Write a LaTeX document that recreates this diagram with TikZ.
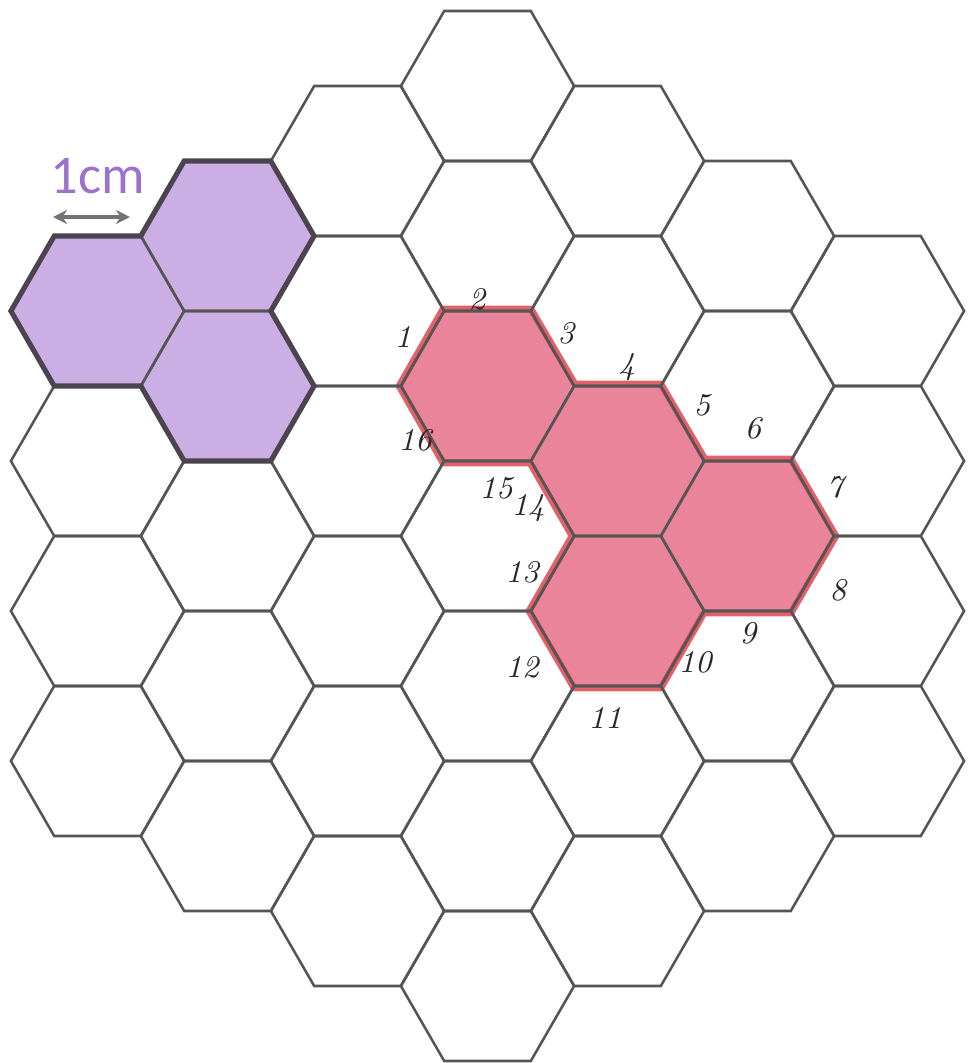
\documentclass[tikz,border=0pt]{standalone}
\usepackage{fontspec}
\newfontfamily\onecmfont{Carlito}
\usetikzlibrary{arrows.meta}
\definecolor{gridgray}{RGB}{85,85,85}
\definecolor{lavender}{RGB}{203,174,228}
\definecolor{purpletext}{RGB}{155,115,205}
\definecolor{outlinegray}{RGB}{75,68,78}
\definecolor{crayonpink}{RGB}{233,132,154}
\definecolor{crayonred}{RGB}{222,58,68}
\definecolor{pencil}{RGB}{40,40,40}
\definecolor{arrowgray}{RGB}{115,115,115}
\tikzset{
  hexa/.pic={\path[pic actions] (-86.6,0) -- (-43.3,-75) -- (43.3,-75) -- (86.6,0) -- (43.3,75) -- (-43.3,75) -- cycle;},
  gridline/.style={draw=gridgray, line width=0.72pt, line join=miter},
  purplefill/.style={fill=lavender, draw=none},
  pinkfill/.style={fill=crayonpink, draw=none},
  purpleedge/.style={draw=outlinegray, line width=1.45pt, line join=miter},
  crayonedge/.style={draw=crayonred, line width=1.9pt, opacity=0.8, line join=round},
  numlabel/.style={text=pencil, font=\itshape\fontsize{9}{9}\selectfont, inner sep=0pt},
}
\begin{document}
\begin{tikzpicture}[x=0.01cm, y=-0.01cm]
\useasboundingbox (0,0) rectangle (969,1063);
% fills
\pic[purplefill] at (97.5,311) {hexa};
\pic[purplefill] at (227.5,236) {hexa};
\pic[purplefill] at (227.5,386) {hexa};
\pic[pinkfill] at (487.5,386) {hexa};
\pic[pinkfill] at (617.5,461) {hexa};
\pic[pinkfill] at (747.5,536) {hexa};
\pic[pinkfill] at (617.5,611) {hexa};
% red crayon perimeter
\draw[crayonedge] (399,386) -- (443,309) -- (531,309) -- (575,384) -- (661,384) -- (705,459) -- (791,459) -- (836,536) -- (791,613) -- (704,613) -- (661,688) -- (574,688) -- (529,611) -- (572,536) -- (530,463) -- (443,463) -- cycle;
% grid
\foreach \c in {-3,...,3}{
  \pgfmathtruncatemacro\ac{abs(\c)}
  \pgfmathtruncatemacro\nr{6-\ac}
  \foreach \r in {0,...,\nr}{
    \pic[gridline] at ({487.5+130*\c},{86+75*\ac+150*\r}) {hexa};
  }
}
% purple group outline
\draw[purpleedge] (10.9,311) -- (54.2,236) -- (140.8,236) -- (184.2,161) -- (270.8,161) -- (314.1,236) -- (270.8,311) -- (314.1,386) -- (270.8,461) -- (184.2,461) -- (140.9,386) -- (54.2,386) -- cycle;
% scale label
\node[text=purpletext, font=\onecmfont\fontsize{15.5}{15.5}\selectfont, inner sep=0pt] (onecm) at (98,176) {1cm};
\coordinate (arrA) at (53,217);
\coordinate (arrB) at (130,217);
\draw[arrowgray, line width=0.9pt, {Stealth[length=4pt,width=4pt]}-{Stealth[length=4pt,width=4pt]}] (arrA) -- (arrB);
% edge numbers
\node[numlabel] (l1) at (403,337) {1};
\node[numlabel] (l2) at (477,299) {2};
\node[numlabel] (l3) at (566,333) {3};
\node[numlabel] (l4) at (627,367) {4};
\node[numlabel] (l5) at (702,405) {5};
\node[numlabel] (l6) at (753,428) {6};
\node[numlabel] (l7) at (835,487) {7};
\node[numlabel] (l8) at (838,590) {8};
\node[numlabel] (l9) at (748,633) {9};
\node[numlabel] (l10) at (695,662) {10};
\node[numlabel] (l11) at (605,718) {11};
\node[numlabel] (l12) at (522,667) {12};
\node[numlabel] (l13) at (522,572) {13};
\node[numlabel] (l14) at (528,508) {14};
\node[numlabel] (l15) at (496,488) {15};
\node[numlabel] (l16) at (415,440) {16};
\end{tikzpicture}
\end{document}
